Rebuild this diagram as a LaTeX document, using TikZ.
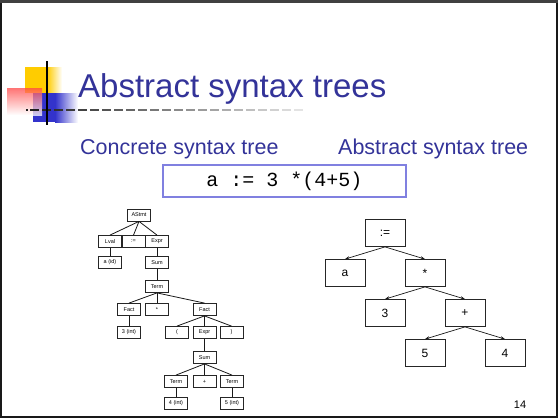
\documentclass[tikz,border=0pt]{standalone}
\usepackage{fontspec}
\setmainfont{Liberation Sans}
\setmonofont{Liberation Mono}
\usetikzlibrary{arrows.meta}
\definecolor{titleblue}{RGB}{51,51,153}
\definecolor{logoyellow}{RGB}{255,204,0}
\definecolor{logoblue}{RGB}{51,51,204}
\definecolor{logored}{RGB}{255,70,70}
\definecolor{codeborder}{RGB}{128,128,224}
\tikzset{
  ctn/.style={draw=black!85, line width=0.8pt, fill=white, minimum width=23pt, minimum height=12pt, inner sep=0pt, font=\fontsize{5.5}{6.5}\selectfont},
  atn/.style={draw=black!85, line width=0.8pt, fill=white, minimum width=40pt, minimum height=27pt, inner sep=0pt, font=\fontsize{12}{14}\selectfont},
  cedge/.style={line width=0.8pt, black!90},
  aedge/.style={line width=0.7pt, black!90, -{Stealth[length=4.5pt,width=3.2pt]}},
  subtitle/.style={anchor=base west, inner sep=0pt, text=titleblue, font=\fontsize{21.5}{24}\selectfont}
}
\begin{document}
\begin{tikzpicture}[x=1pt,y=-1pt]
\useasboundingbox (0,0) rectangle (558,418);
\fill[white] (0,0) rectangle (558,418);
% frame
\draw[line width=2pt, black!90] (1,1) rectangle (557,417);
\fill[black!75] (0,0) rectangle (558,3);
% logo
\fill[logoyellow] (25,67) rectangle (47,93);
\shade[left color=logoyellow, right color=white] (47,67) rectangle (62,93);
\fill[logoblue] (33,93) rectangle (55,122);
\shade[left color=logoblue, right color=white] (55,93) rectangle (78,122);
\shade[fill opacity=0.75, shading angle=225, top color=logored, bottom color=white] (7,88) rectangle (42,115);
\foreach \i in {0,...,22} {
  \pgfmathsetmacro{\xs}{30+\i*12}
  \pgfmathsetmacro{\xe}{\xs+9}
  \pgfmathsetmacro{\c}{88-\i*3.5}
  \draw[line width=1.6pt, black!\c] (\xs,110) -- (\xe,110);
}
\fill[black!88] (25.5,109.2) rectangle (27.5,110.8);
\draw[line width=2pt, black] (47,61) -- (47,125);
% titles
\node[anchor=base west, inner sep=0pt, text=titleblue, font=\fontsize{33}{37}\selectfont] (title) at (78,97) {Abstract syntax trees};
\node[subtitle] (sub1) at (80,154) {Concrete syntax tree};
\node[subtitle] (sub2) at (338,154) {Abstract syntax tree};
% code box
\node[draw=codeborder, line width=1.5pt, minimum width=243pt, minimum height=32pt, inner sep=0pt, font=\ttfamily\fontsize{20}{22}\selectfont] (code) at (284.5,181) {a := 3 *(4+5)};
% concrete syntax tree
\node[ctn] (astmt) at (139,215) {AStmt};
\node[ctn] (lval) at (110,241.5) {Lval};
\node[ctn] (casg) at (133.5,241.5) {:=};
\node[ctn] (expr1) at (157,241.5) {Expr};
\node[ctn] (aid) at (110,262.5) {a (id)};
\node[ctn] (sum1) at (157,262.5) {Sum};
\node[ctn] (term1) at (157,286.5) {Term};
\node[ctn] (factl) at (129,309.5) {Fact};
\node[ctn] (cstar) at (157,309.5) {*};
\node[ctn] (factr) at (204.5,309.5) {Fact};
\node[ctn] (int3) at (129,332.5) {3 (int)};
\node[ctn] (lp) at (177,332.5) {(};
\node[ctn] (expr2) at (204.5,332.5) {Expr};
\node[ctn] (rp) at (231.5,332.5) {)};
\node[ctn] (sum2) at (204.5,357.5) {Sum};
\node[ctn] (terml) at (176,381.5) {Term};
\node[ctn] (cplus) at (204.5,381.5) {+};
\node[ctn] (termr) at (232,381.5) {Term};
\node[ctn] (int4) at (176,403.5) {4 (int)};
\node[ctn] (int5) at (232,403.5) {5 (int)};
\foreach \p/\c in {astmt/lval, astmt/casg, astmt/expr1, lval/aid, expr1/sum1, sum1/term1,
  term1/factl, term1/cstar, term1/factr, factl/int3, factr/lp, factr/expr2, factr/rp,
  expr2/sum2, sum2/terml, sum2/cplus, sum2/termr, terml/int4, termr/int5}
  \draw[cedge] (\p.south) -- (\c.north);
% abstract syntax tree
\node[atn] (asg) at (385,233) {:=};
\node[atn] (va) at (345,273) {a};
\node[atn] (astar) at (425,273) {*};
\node[atn] (three) at (385,313) {3};
\node[atn] (aplus) at (465,313) {+};
\node[atn] (five) at (425,353) {5};
\node[atn] (four) at (505,353) {4};
\foreach \p/\c in {asg/va, asg/astar, astar/three, astar/aplus, aplus/five, aplus/four}
  \draw[aedge] (\p.south) -- (\c.north);
% page number
\node[inner sep=0pt, font=\fontsize{11}{13}\selectfont] (pnum) at (520,405) {14};
\end{tikzpicture}
\end{document}
